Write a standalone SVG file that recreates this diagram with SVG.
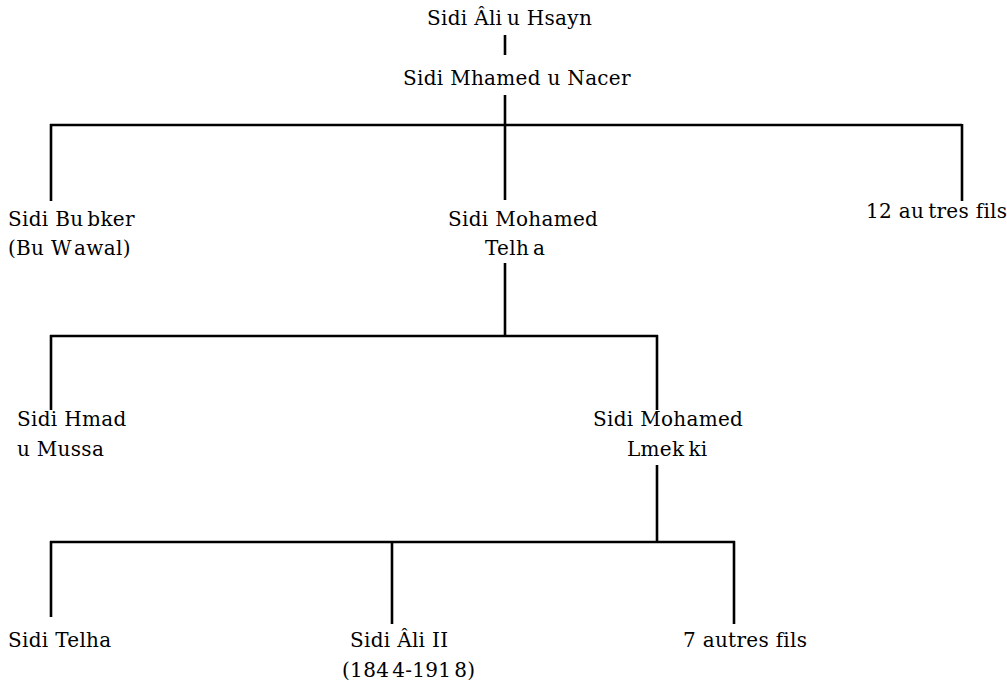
<svg xmlns="http://www.w3.org/2000/svg" width="1007" height="682" viewBox="0 0 1007 682">
<style>
.t text{font-size:20px;fill:#000;letter-spacing:0.3px}
.c{fill:none;stroke:#000;stroke-width:2.6;stroke-linecap:butt}
</style>
<rect width="1007" height="682" fill="#fff"/>
<g id="connectors">
<path class="c" d="M505 35V55"/>
<path class="c" d="M505 95V200"/>
<path class="c" d="M50 125H962M51 124V201M962 124V201"/>
<path class="c" d="M505 263V336"/>
<path class="c" d="M50 336H658M51 335V410M657 335V410"/>
<path class="c" d="M657 465V542"/>
<path class="c" d="M50 542H735M51 541V617M392 542V624M734 541V624"/>
</g>
<g class="t" font-family="DejaVu Serif, Liberation Serif, serif">
<g id="n-ali"><text x="427" y="25">Sidi Âli<tspan dx="-2"> u Hsayn</tspan></text></g>
<g id="n-mhamed"><text x="403" y="85">Sidi Mhamed u Nacer</text></g>
<g id="n-bubker"><text x="8" y="226">Sidi Bu<tspan dx="4">bker</tspan></text><text x="8" y="255">(Bu W<tspan dx="4">awal)</tspan></text></g>
<g id="n-telha"><text x="448" y="226">Sidi Mohamed</text><text x="485" y="255">Telh<tspan dx="4">a</tspan></text></g>
<g id="n-autres12"><text x="866" y="218">12 au<tspan dx="4">tres fils</tspan></text></g>
<g id="n-hmad"><text x="17" y="426">Sidi Hmad</text><text x="17" y="456">u Mussa</text></g>
<g id="n-lmekki"><text x="593" y="426">Sidi Mohamed</text><text x="627" y="456">Lmek<tspan dx="4">ki</tspan></text></g>
<g id="n-stelha"><text x="8" y="647">Sidi Telha</text></g>
<g id="n-ali2"><text x="350" y="647">Sidi Âli II</text><text x="342" y="677">(184<tspan dx="3">4-191</tspan><tspan dx="3">8)</tspan></text></g>
<g id="n-autres7"><text x="683" y="647">7 autres fils</text></g>
</g>
</svg>
